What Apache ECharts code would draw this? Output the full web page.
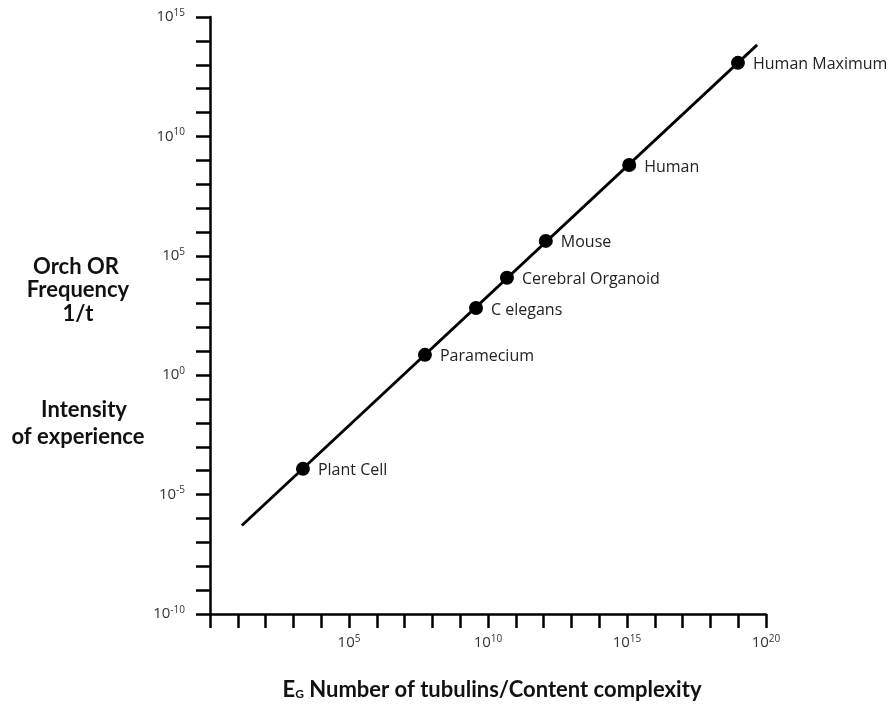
<!DOCTYPE html>
<html>
<head>
<meta charset="utf-8">
<script src="https://cdn.jsdelivr.net/npm/echarts@6/dist/echarts.min.js"></script>
<style>html,body{margin:0;padding:0;background:#fff}#c{width:888px;height:704px}</style>
</head>
<body>
<div id="c"></div>
<script>
// Organisms (categories) and their positions
const organisms = ['Plant Cell', 'Paramecium', 'C elegans', 'Cerebral Organoid', 'Mouse', 'Human', 'Human Maximum'];
const tubulins = [2.2e3, 5.4e7, 3.7e9, 4.8e10, 1.2e12, 1.2e15, 9.8e18];       // E_G (x)
const frequency = [1.2e-4, 7.1, 6.5e2, 1.2e4, 4.2e5, 6.3e8, 1.2e13];          // 1/t (y)
// Trend line end points
const lineX = [1.4e1, 4.8e19];
const lineY = [5.1e-7, 6.8e13];
// Axis ranges (powers of ten) and labelled exponents
const xRange = [1e0, 1e20];
const yRange = [1e-10, 1e15];
const xLabelExps = [5, 10, 15, 20];
const yLabelExps = [-10, -5, 0, 5, 10, 15];

const chart = echarts.init(document.getElementById('c'), null, {renderer: 'canvas'});

function supLabel(exps) {
  return function (v) {
    const n = Math.round(Math.log10(v));
    if (exps.indexOf(n) < 0) return '';
    return '{b|10}{s|' + n + '}';
  };
}
const richTick = {
  b: {fontFamily: 'Open Sans', fontSize: 15, color: '#333'},
  s: {fontFamily: 'Open Sans', fontSize: 10, color: '#333', padding: [0, 0, 8, 0]}
};
const titleFont = 'bold 22px Lato';

chart.setOption({
  animation: false,
  backgroundColor: '#fff',
  grid: {left: 210, right: 122, top: 17, bottom: 90, containLabel: false},
  xAxis: {
    type: 'log', logBase: 10, min: xRange[0], max: xRange[1], interval: 1,
    splitLine: {show: false},
    axisLine: {lineStyle: {color: '#000', width: 2.5}},
    axisTick: {length: 14, lineStyle: {color: '#000', width: 2.5}},
    axisLabel: {margin: 20, formatter: supLabel(xLabelExps), rich: richTick, showMinLabel: true, showMaxLabel: true}
  },
  yAxis: {
    type: 'log', logBase: 10, min: yRange[0], max: yRange[1], interval: 1,
    splitLine: {show: false},
    axisLine: {lineStyle: {color: '#000', width: 2.5}},
    axisTick: {length: 14, lineStyle: {color: '#000', width: 2.5}},
    axisLabel: {margin: 25, formatter: supLabel(yLabelExps), rich: richTick, showMinLabel: true, showMaxLabel: true}
  },
  title: [{
    text: '{e|E}{g|G}{t| Number of tubulins/Content complexity}',
    left: 487, top: 674, textAlign: 'center',
    textStyle: {
      rich: {
        e: {fontFamily: 'Lato', fontWeight: 'bold', fontSize: 22, color: '#111'},
        g: {fontFamily: 'Lato', fontWeight: 'bold', fontSize: 12, color: '#111', padding: [9, 0, 0, 0]},
        t: {fontFamily: 'Lato', fontWeight: 'bold', fontSize: 22, color: '#111'}
      }
    }
  }],
  graphic: [
    {type: 'text', x: 76, y: 267, style: {text: 'Orch OR', font: titleFont, fill: '#111', align: 'center', verticalAlign: 'middle'}},
    {type: 'text', x: 78, y: 290, style: {text: 'Frequency', font: titleFont, fill: '#111', align: 'center', verticalAlign: 'middle'}},
    {type: 'text', x: 78, y: 314, style: {text: '1/t', font: titleFont, fill: '#111', align: 'center', verticalAlign: 'middle'}},
    {type: 'text', x: 84, y: 410, style: {text: 'Intensity', font: titleFont, fill: '#111', align: 'center', verticalAlign: 'middle'}},
    {type: 'text', x: 78, y: 437, style: {text: 'of experience', font: titleFont, fill: '#111', align: 'center', verticalAlign: 'middle'}}
  ],
  series: [
    {
      type: 'line', data: lineX.map((x, i) => [x, lineY[i]]),
      showSymbol: false, symbol: 'none',
      lineStyle: {color: '#000', width: 2.8}, z: 2, silent: true
    },
    {
      type: 'scatter', data: tubulins.map((x, i) => ({value: [x, frequency[i]], name: organisms[i]})),
      symbolSize: 14, itemStyle: {color: '#000', opacity: 1}, z: 3,
      label: {show: true, position: 'right', distance: 8, offset: [0, 2], formatter: '{b}', fontFamily: 'Open Sans', fontSize: 16, color: '#222'}
    }
  ]
});
</script>
</body>
</html>
